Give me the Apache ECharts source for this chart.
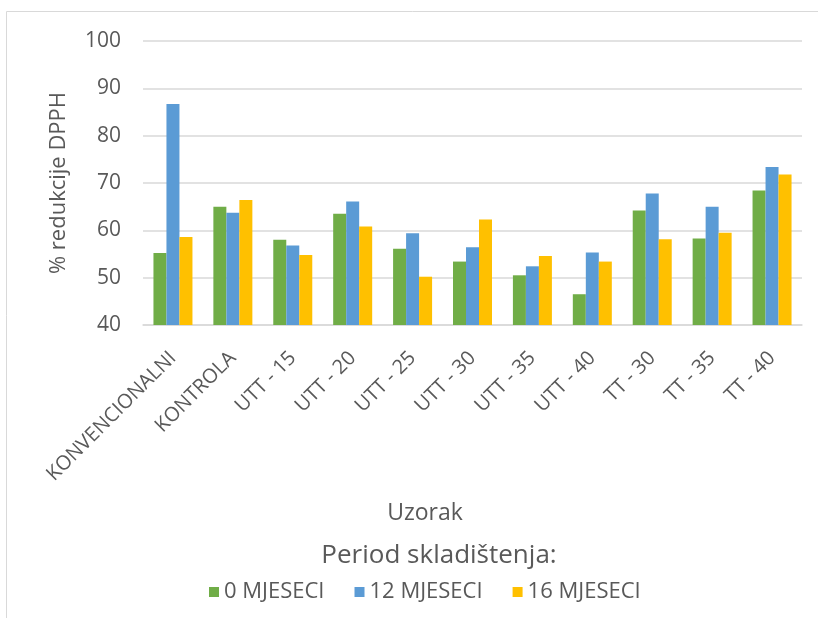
<!DOCTYPE html>
<html>
<head>
<meta charset="utf-8">
<script src="https://cdn.jsdelivr.net/npm/echarts@6/dist/echarts.min.js"></script>
<style>
  html, body { margin: 0; padding: 0; background: #fff; }
  #chart { width: 818px; height: 618px; }
</style>
</head>
<body>
<div id="chart"></div>
<script>
var categories = ['KONVENCIONALNI', 'KONTROLA', 'UTT - 15', 'UTT - 20', 'UTT - 25', 'UTT - 30',
    'UTT - 35', 'UTT - 40', 'TT - 30', 'TT - 35', 'TT - 40'];
var mjeseci0 = [55.2, 65.0, 58.0, 63.5, 56.1, 53.4, 50.5, 46.5, 64.2, 58.3, 68.4];
var mjeseci12 = [86.7, 63.7, 56.8, 66.1, 59.4, 56.4, 52.4, 55.3, 67.8, 65.0, 73.4];
var mjeseci16 = [58.6, 66.4, 54.8, 60.8, 50.2, 62.3, 54.6, 53.4, 58.1, 59.5, 71.8];
var seriesNames = ['0 MJESECI', '12 MJESECI', '16 MJESECI'];

var font = 'Open Sans';
var textColor = '#595959';

var chart = echarts.init(document.getElementById('chart'));
var option = {
    animation: false,
    color: ['#70AD47', '#5B9BD5', '#FFC000'],
    textStyle: { fontFamily: font },
    legend: {
        data: seriesNames,
        left: 204,
        top: 576,
        itemWidth: 10,
        itemHeight: 10,
        itemGap: 30,
        icon: 'rect',
        textStyle: { fontFamily: font, fontSize: 22, color: textColor }
    },
    graphic: [
        {
            type: 'rect',
            shape: { x: 6.5, y: 11.5, width: 900, height: 700 },
            style: { fill: 'none', stroke: '#d9d9d9', lineWidth: 1 },
            silent: true
        },
        {
            type: 'text',
            x: 425,
            y: 513,
            style: {
                text: 'Uzorak', fill: textColor, font: '23px "Open Sans"',
                align: 'center', verticalAlign: 'middle'
            }
        },
        {
            type: 'text',
            x: 439,
            y: 556,
            style: {
                text: 'Period skladištenja:', fill: textColor, font: '26px "Open Sans"',
                align: 'center', verticalAlign: 'middle'
            }
        }
    ],
    grid: { left: 143, right: 16, top: 41, bottom: 293 },
    xAxis: {
        type: 'category',
        data: categories,
        axisLine: { lineStyle: { color: '#d9d9d9', width: 1.5 } },
        axisTick: { show: false },
        axisLabel: { interval: 0, rotate: 45, fontSize: 20, color: textColor, margin: 30 }
    },
    yAxis: {
        type: 'value',
        min: 40,
        max: 100,
        interval: 10,
        name: '% redukcije DPPH',
        nameLocation: 'middle',
        nameGap: 73,
        nameTextStyle: { fontFamily: font, fontSize: 22, color: textColor },
        axisLine: { show: false },
        axisTick: { show: false },
        axisLabel: { fontSize: 21, color: textColor, margin: 22 },
        splitLine: { lineStyle: { color: '#d9d9d9', width: 1.5 } }
    },
    series: [
        { name: seriesNames[0], type: 'bar', data: mjeseci0, barWidth: 13, barGap: '0%' },
        { name: seriesNames[1], type: 'bar', data: mjeseci12, barWidth: 13, barGap: '0%' },
        { name: seriesNames[2], type: 'bar', data: mjeseci16, barWidth: 13, barGap: '0%' }
    ]
};
chart.setOption(option);
</script>
</body>
</html>
